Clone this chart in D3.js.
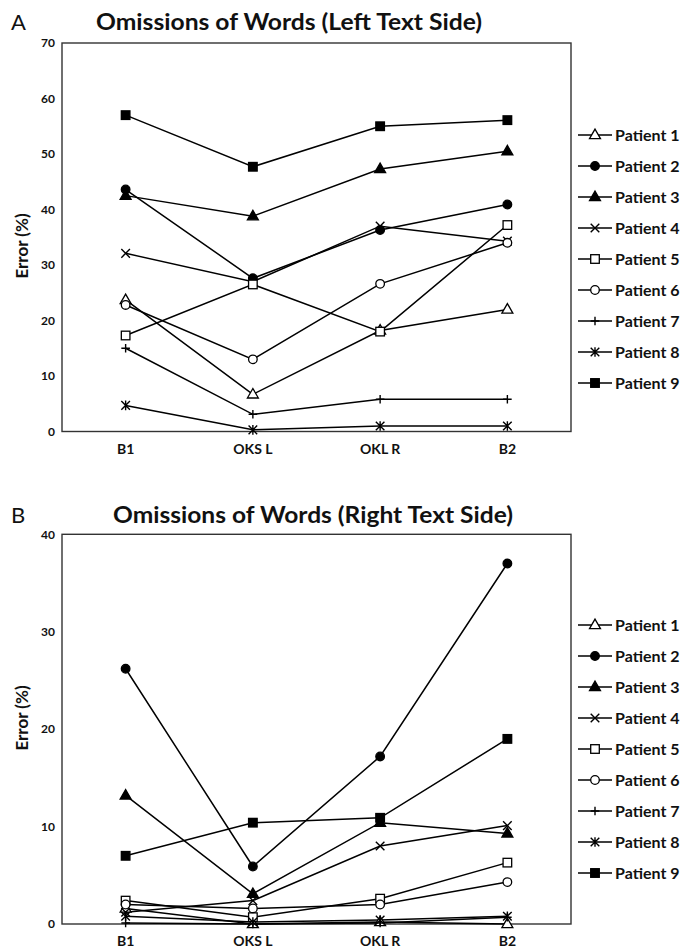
<!DOCTYPE html>
<html><head><meta charset="utf-8">
<script src="https://cdn.jsdelivr.net/npm/d3@7"></script>
<style>
html,body{margin:0;padding:0;background:#fff;}
svg{display:block;}
text{font-family:Lato,"Open Sans",sans-serif;fill:#111;}
</style></head>
<body>
<svg id="chart" width="697" height="948"></svg>
<script>
const categories = ["B1", "OKS L", "OKL R", "B2"];
const patients = ["Patient 1","Patient 2","Patient 3","Patient 4","Patient 5","Patient 6","Patient 7","Patient 8","Patient 9"];
const markers = ["triangleOpen","circleFilled","triangleFilled","cross","squareOpen","circleOpen","plus","asterisk","squareFilled"];

// Panel A: Omissions of Words (Left Text Side)
const leftP1 = [23.7, 6.7, 18.2, 22.0];
const leftP2 = [43.6, 27.6, 36.3, 40.9];
const leftP3 = [42.5, 38.8, 47.3, 50.5];
const leftP4 = [32.1, 27.0, 37.0, 34.3];
const leftP5 = [17.3, 26.5, 18.0, 37.2];
const leftP6 = [22.8, 13.0, 26.6, 34.0];
const leftP7 = [15.0, 3.1, 5.8, 5.8];
const leftP8 = [4.7, 0.3, 1.0, 1.0];
const leftP9 = [57.0, 47.7, 55.0, 56.1];
const leftTicks = [0, 10, 20, 30, 40, 50, 60, 70];

// Panel B: Omissions of Words (Right Text Side)
const rightP1 = [1.6, 0.0, 0.2, 0.0];
const rightP2 = [26.2, 5.9, 17.2, 37.0];
const rightP3 = [13.2, 3.1, 10.4, 9.3];
const rightP4 = [1.2, 2.4, 8.0, 10.1];
const rightP5 = [2.4, 0.7, 2.6, 6.3];
const rightP6 = [2.0, 1.6, 2.0, 4.3];
const rightP7 = [0.1, 0.0, 0.1, 0.7];
const rightP8 = [0.8, 0.2, 0.4, 0.8];
const rightP9 = [7.0, 10.4, 10.9, 19.0];
const rightTicks = [0, 10, 20, 30, 40];

const panels = [
  {letter:"A", title:"Omissions of Words (Left Text Side)", series:[leftP1,leftP2,leftP3,leftP4,leftP5,leftP6,leftP7,leftP8,leftP9], ticks:leftTicks, max:70,
   top:43, bottom:431.5, titleX:96, titleW:386, titleY:30, letterY:30, ylabelY:246, legendY0:135, catY:454},
  {letter:"B", title:"Omissions of Words (Right Text Side)", series:[rightP1,rightP2,rightP3,rightP4,rightP5,rightP6,rightP7,rightP8,rightP9], ticks:rightTicks, max:40,
   top:534.3, bottom:924, titleX:113, titleW:400, titleY:523, letterY:523, ylabelY:718, legendY0:625, catY:946}
];

const svg = d3.select("#chart");
const left = 62, right = 571;

function drawMarker(g, type, x, y) {
  const s = 4.3;
  const col = "#000";
  if (type === "triangleOpen" || type === "triangleFilled") {
    g.append("path").attr("d", d3.symbol(d3.symbolTriangle, 52)())
      .attr("transform", `translate(${x},${y+0.5})`)
      .attr("fill", type === "triangleFilled" ? col : "#fff").attr("stroke", col).attr("stroke-width", 1.3);
  } else if (type === "circleFilled" || type === "circleOpen") {
    g.append("circle").attr("cx", x).attr("cy", y).attr("r", 4.3)
      .attr("fill", type === "circleFilled" ? col : "#fff").attr("stroke", col).attr("stroke-width", 1.3);
  } else if (type === "squareFilled" || type === "squareOpen") {
    g.append("rect").attr("x", x-4.3).attr("y", y-4.3).attr("width", 8.6).attr("height", 8.6)
      .attr("fill", type === "squareFilled" ? col : "#fff").attr("stroke", col).attr("stroke-width", 1.3);
  } else if (type === "cross") {
    g.append("path").attr("d", `M${x-s},${y-s}L${x+s},${y+s}M${x-s},${y+s}L${x+s},${y-s}`)
      .attr("stroke", col).attr("stroke-width", 1.4).attr("fill", "none");
  } else if (type === "plus") {
    g.append("path").attr("d", `M${x-s},${y}L${x+s},${y}M${x},${y-s}L${x},${y+s}`)
      .attr("stroke", col).attr("stroke-width", 1.4).attr("fill", "none");
  } else if (type === "asterisk") {
    g.append("path").attr("d", `M${x-s},${y-s}L${x+s},${y+s}M${x-s},${y+s}L${x+s},${y-s}M${x},${y-s-0.5}L${x},${y+s+0.5}`)
      .attr("stroke", col).attr("stroke-width", 1.4).attr("fill", "none");
  }
}

panels.forEach(p => {
  const g = svg.append("g");
  const x = d3.scaleBand().domain(categories).range([left, right]).padding(0);
  const y = d3.scaleLinear().domain([0, p.max]).range([p.bottom, p.top]);
  const cx = c => x(c) + x.bandwidth()/2;

  // panel letter
  g.append("text").attr("x", 11).attr("y", p.letterY).attr("font-size", 22)
    .attr("font-family", "'Liberation Sans',Arial,sans-serif").attr("font-weight", 400).text(p.letter);
  // title
  g.append("text").attr("x", p.titleX).attr("y", p.titleY)
    .attr("font-size", 23).attr("font-weight", 700)
    .attr("textLength", p.titleW).attr("lengthAdjust", "spacingAndGlyphs").text(p.title);

  // y axis ticks
  const yAxis = d3.axisLeft(y).tickValues(p.ticks).tickSize(0).tickPadding(7);
  const ya = g.append("g").attr("transform", `translate(${left},0)`).call(yAxis);
  ya.select(".domain").remove();
  ya.selectAll("text").attr("font-size", 12).attr("font-weight", 700).attr("font-family", "Lato,sans-serif").attr("fill", "#111");

  // x axis labels
  const xAxis = d3.axisBottom(x).tickSize(0).tickPadding(0);
  const xa = g.append("g").attr("transform", `translate(0,${p.catY})`).call(xAxis);
  xa.select(".domain").remove();
  xa.selectAll("text").attr("font-size", 14).attr("font-weight", 700).attr("font-family", "Lato,sans-serif")
    .attr("fill", "#111").attr("dy", "0").attr("y", 0);

  // frame
  g.append("rect").attr("x", left).attr("y", p.top).attr("width", right-left).attr("height", p.bottom-p.top)
    .attr("fill", "none").attr("stroke", "#333").attr("stroke-width", 1.4);

  // y label
  g.append("text").attr("transform", `translate(28,${p.ylabelY}) rotate(-90)`).attr("text-anchor", "middle")
    .attr("font-size", 17).attr("font-weight", 700).text("Error (%)");

  // lines
  const line = d3.line().x((d,i) => cx(categories[i])).y(d => y(d));
  p.series.forEach((s, si) => {
    g.append("path").datum(s).attr("d", line).attr("fill", "none").attr("stroke", "#000").attr("stroke-width", 1.5);
  });
  p.series.forEach((s, si) => {
    s.forEach((v, i) => drawMarker(g, markers[si], cx(categories[i]), y(v)));
  });

  // legend
  patients.forEach((name, i) => {
    const ly = p.legendY0 + i * 31;
    g.append("line").attr("x1", 578).attr("x2", 612).attr("y1", ly).attr("y2", ly).attr("stroke", "#000").attr("stroke-width", 1.5);
    drawMarker(g, markers[i], 595, ly);
    g.append("text").attr("x", 615).attr("y", ly + 6).attr("font-size", 16).attr("font-weight", 700).text(name);
  });
});
</script>
</body></html>
